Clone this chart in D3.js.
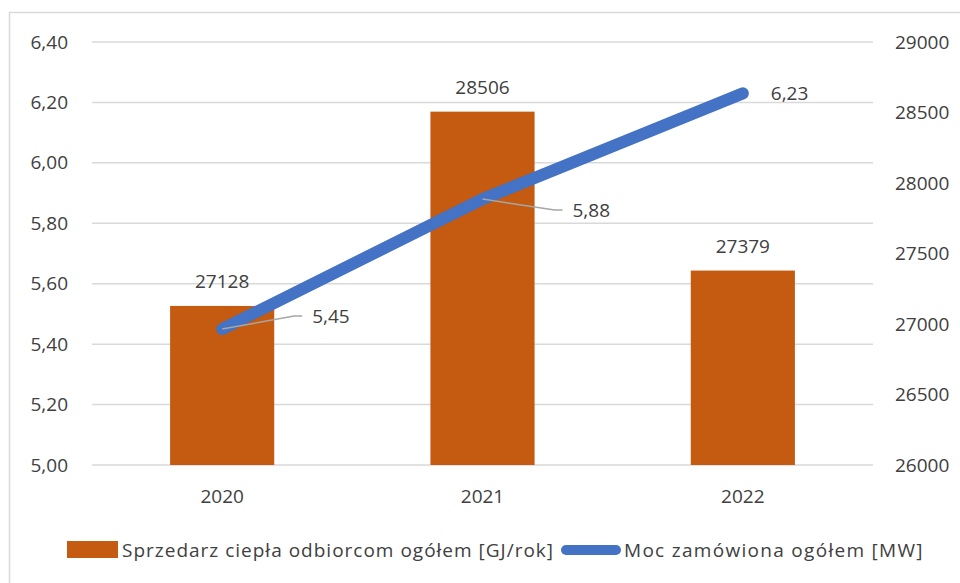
<!DOCTYPE html>
<html>
<head>
<meta charset="utf-8">
<script src="https://cdn.jsdelivr.net/npm/d3@7"></script>
<style>
  body { margin: 0; background: #fff; }
  text { font-family: "Open Sans", "Noto Sans", sans-serif; fill: #404040; }
</style>
</head>
<body>
<div id="chart-container"></div>
<script>
// data
const years = ["2020", "2021", "2022"];
const sales = [27128, 28506, 27379];        // Sprzedarz ciepła [GJ/rok] - right axis
const power = [5.45, 5.88, 6.23];           // Moc zamówiona [MW] - left axis
const leftTicks = [5.0, 5.2, 5.4, 5.6, 5.8, 6.0, 6.2, 6.4];
const rightTicks = [26000, 26500, 27000, 27500, 28000, 28500, 29000];
const seriesNames = ["Sprzedarz ciepła odbiorcom ogółem [GJ/rok]", "Moc zamówiona ogółem [MW]"];

const W = 960, H = 583;
const plot = {left: 92, right: 873, top: 42, bottom: 465};

const svg = d3.select("#chart-container")
  .append("svg")
    .attr("width", W)
    .attr("height", H);

// outer frame
svg.append("rect")
  .attr("x", 9.5).attr("y", 12.5)
  .attr("width", W + 20).attr("height", H + 20)
  .attr("fill", "none")
  .attr("stroke", "#d9d9d9")
  .attr("stroke-width", 1.5);

const x = d3.scaleBand().domain(years).range([plot.left, plot.right]).paddingInner(0.6).paddingOuter(0.3);
const xc = d3.scalePoint().domain(years).range([plot.left, plot.right]).padding(0.5);
const yL = d3.scaleLinear().domain([5.0, 6.4]).range([plot.bottom, plot.top]);
const yR = d3.scaleLinear().domain([26000, 29000]).range([plot.bottom, plot.top]);

const fmt = d3.formatLocale({decimal: ",", thousands: "\u00a0", grouping: [3], currency: ["", " zł"]}).format(".2f");

// gridlines
svg.append("g")
  .selectAll("line")
  .data(leftTicks)
  .join("line")
    .attr("x1", plot.left).attr("x2", plot.right)
    .attr("y1", d => yL(d)).attr("y2", d => yL(d))
    .attr("stroke", "#d9d9d9")
    .attr("stroke-width", 1.5);

// left axis
const axL = svg.append("g")
  .attr("transform", `translate(${plot.left},0)`)
  .call(d3.axisLeft(yL).tickValues(leftTicks).tickFormat(fmt).tickSize(0).tickPadding(24));
axL.select(".domain").remove();
axL.selectAll("text").style("font-size", "19px").attr("fill", "#595959");

// right axis
const axR = svg.append("g")
  .attr("transform", `translate(${plot.right},0)`)
  .call(d3.axisRight(yR).tickValues(rightTicks).tickFormat(d3.format("d")).tickSize(0).tickPadding(22));
axR.select(".domain").remove();
axR.selectAll("text").style("font-size", "19px").attr("fill", "#595959");

// bottom axis
const axB = svg.append("g")
  .attr("transform", `translate(0,${plot.bottom})`)
  .call(d3.axisBottom(x).tickSize(0).tickPadding(25));
axB.select(".domain").remove();
axB.selectAll("text").style("font-size", "19px").attr("fill", "#595959");

// bars
svg.append("g")
  .selectAll("rect")
  .data(sales)
  .join("rect")
    .attr("x", (d, i) => x(years[i]))
    .attr("width", x.bandwidth())
    .attr("y", d => yR(d))
    .attr("height", d => plot.bottom - yR(d))
    .attr("fill", "#c55a11");

// bar labels
svg.append("g")
  .selectAll("text")
  .data(sales)
  .join("text")
    .attr("x", (d, i) => xc(years[i]))
    .attr("y", d => yR(d) - 18)
    .attr("text-anchor", "middle")
    .style("font-size", "19px")
    .text(d => d);

// line
const line = d3.line()
  .x((d, i) => xc(years[i]))
  .y(d => yL(d));

svg.append("path")
  .datum(power)
  .attr("d", line)
  .attr("fill", "none")
  .attr("stroke", "#4472c4")
  .attr("stroke-width", 12)
  .attr("stroke-linecap", "round")
  .attr("stroke-linejoin", "round");

// line labels, with leader lines for the first two
const labOff = [{dx: 90, dy: -13, lead: true}, {dx: 90, dy: 11, lead: true}, {dx: 28, dy: 0, lead: false}];
const lg = svg.append("g");
power.forEach((v, i) => {
  const px = xc(years[i]), py = yL(v), o = labOff[i];
  if (o.lead) {
    lg.append("polyline")
      .attr("points", `${px},${py} ${px + o.dx - 18},${py + o.dy} ${px + o.dx - 10},${py + o.dy}`)
      .attr("fill", "none")
      .attr("stroke", "#a6a6a6")
      .attr("stroke-width", 1.5);
  }
  lg.append("text")
    .attr("x", px + o.dx)
    .attr("y", py + o.dy)
    .attr("dy", "0.35em")
    .style("font-size", "19px")
    .text(fmt(v));
});

// legend
const leg = svg.append("g");
leg.append("rect")
  .attr("x", 67).attr("y", 541).attr("width", 51).attr("height", 17)
  .attr("fill", "#c55a11");
leg.append("text")
  .attr("x", 122).attr("y", 550).attr("dy", "0.35em")
  .style("font-size", "19px")
  .style("letter-spacing", "1px")
  .text(seriesNames[0]);
leg.append("line")
  .attr("x1", 566).attr("x2", 616).attr("y1", 550).attr("y2", 550)
  .attr("stroke", "#4472c4")
  .attr("stroke-width", 10)
  .attr("stroke-linecap", "round");
leg.append("text")
  .attr("x", 624).attr("y", 550).attr("dy", "0.35em")
  .style("font-size", "19px")
  .style("letter-spacing", "1.3px")
  .text(seriesNames[1]);
</script>
</body>
</html>
